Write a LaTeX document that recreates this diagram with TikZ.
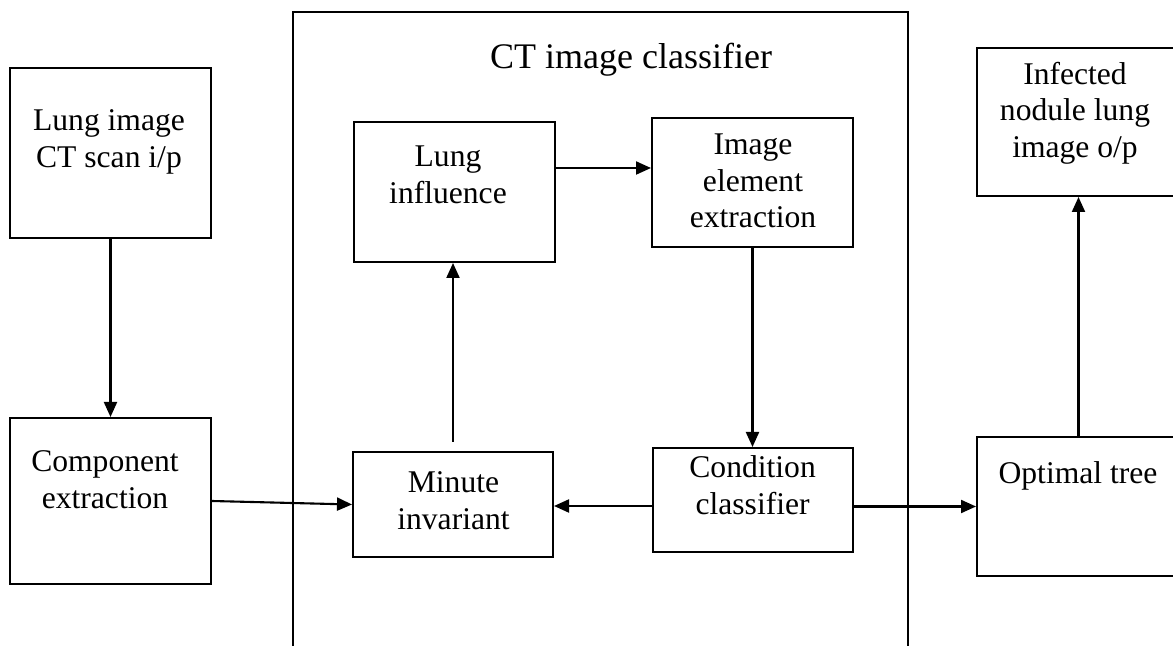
\documentclass[tikz,border=0pt]{standalone}
\usepackage{fontspec}
\setmainfont{Liberation Serif}
\usetikzlibrary{arrows.meta,positioning,calc}

\begin{document}
\begin{tikzpicture}[
  x=0.5pt, y=-0.5pt,
  font=\fontsize{15.8pt}{18.35pt}\selectfont,
  >={Triangle[length=7.5pt,width=6.5pt]},
  box/.style={draw, line width=1pt, inner sep=0pt},
  txt/.style={align=center, inner sep=0pt, anchor=north},
  flow/.style={->, line width=1.05pt}
]
  \useasboundingbox (0,0) rectangle (1173,646);
  \clip (0,0) rectangle (1173,646);

  % Classifier frame (runs off the bottom edge)
  \node[box, minimum width=307.5pt, minimum height=354pt] (clf) at (600.5,366) {};
  \node[txt, font=\fontsize{18pt}{21pt}\selectfont] (clftitle) at (631,42.4) {CT image classifier};

  % Input side
  \node[box, minimum width=100.5pt, minimum height=85pt] (lungin) at (110.5,153) {};
  \node[txt] (lungintxt) at (109,109.4) {Lung image\\CT scan i/p};
  \node[box, minimum width=100.5pt, minimum height=83pt] (comp) at (110.5,501) {};
  \node[txt] (comptxt) at (105,450.4) {Component\\extraction};

  % Inside the classifier
  \node[box, minimum width=100.5pt, minimum height=70pt] (influence) at (454.5,192) {};
  \node[txt] (influencetxt) at (448,145.4) {Lung\\influence};
  \node[box, minimum width=100.5pt, minimum height=64.5pt] (element) at (752.5,182.5) {};
  \node[txt] (elementtxt) at (753,133.4) {Image\\element\\extraction};
  \node[box, minimum width=100pt, minimum height=52.5pt] (minute) at (453,504.5) {};
  \node[txt] (minutetxt) at (453.5,471.4) {Minute\\invariant};
  \node[box, minimum width=100pt, minimum height=52pt] (condition) at (753,500) {};
  \node[txt] (conditiontxt) at (752.6,455.4) {Condition\\classifier};

  % Output side (runs off the right edge)
  \node[box, minimum width=99pt, minimum height=74pt] (infected) at (1076,122) {};
  \node[txt] (infectedtxt) at (1075,61.4) {Infected\\nodule lung\\image o/p};
  \node[box, minimum width=101.5pt, minimum height=69.5pt] (optimal) at (1078.5,506.5) {};
  \node[txt] (optimaltxt) at (1078,461.4) {Optimal tree};

  % Connectors
  \draw[flow] (lungin.south) -- (comp.north);
  \draw[flow] (comp.east) -- (minute.west);
  \draw[flow, shorten <=4.5pt] (minute.north) -- (minute.north |- influence.south);
  \draw[flow] ([yshift=12pt]influence.east) -- ([yshift=12pt]influence.east -| element.west);
  \draw[flow] (element.south) -- (element.south |- condition.north);
  \draw[flow] ([yshift=-3pt]condition.west) -- ([yshift=-3pt]condition.west -| minute.east);
  \draw[flow] (condition.east |- optimal.west) -- (optimal.west);
  \draw[flow] (optimal.north) -- (optimal.north |- infected.south);
\end{tikzpicture}
\end{document}
